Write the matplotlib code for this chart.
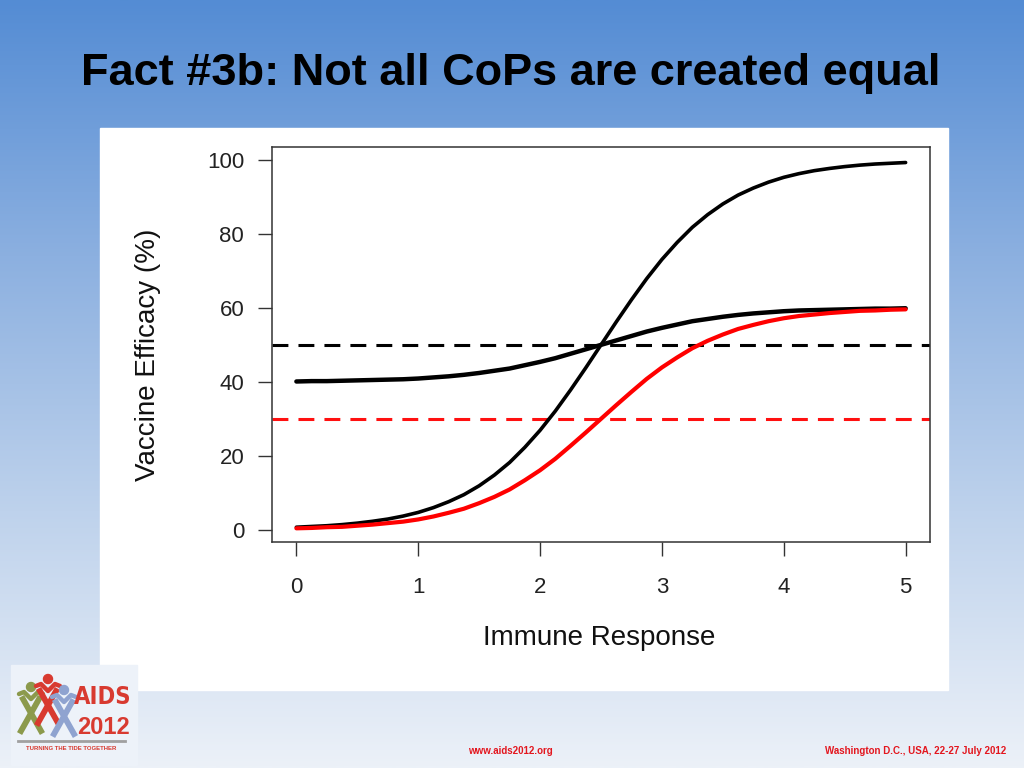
import numpy as np
import matplotlib
matplotlib.use("Agg")
import matplotlib.pyplot as plt
from matplotlib.patches import Rectangle, Circle

plt.rcParams['font.family'] = ['Liberation Sans', 'DejaVu Sans']

# immune response grid and the three efficacy curves
immune = [0.0, 0.125, 0.25, 0.375, 0.5, 0.625, 0.75, 0.875, 1.0, 1.125,
          1.25, 1.375, 1.5, 1.625, 1.75, 1.875, 2.0, 2.125, 2.25, 2.375,
          2.5, 2.625, 2.75, 2.875, 3.0, 3.125, 3.25, 3.375, 3.5, 3.625,
          3.75, 3.875, 4.0, 4.125, 4.25, 4.375, 4.5, 4.625, 4.75, 4.875, 5.0]
steep_black = [0.7, 0.9, 1.1, 1.4, 1.8, 2.3, 2.9, 3.7, 4.7, 6.0,
               7.6, 9.5, 11.9, 14.8, 18.2, 22.3, 26.9, 32.1, 37.8, 43.8,
               50.0, 56.2, 62.2, 67.9, 73.1, 77.7, 81.8, 85.2, 88.1, 90.5,
               92.4, 94.0, 95.3, 96.3, 97.1, 97.7, 98.2, 98.6, 98.9, 99.1, 99.3]
flat_black = [40.1, 40.2, 40.2, 40.3, 40.4, 40.5, 40.6, 40.7, 40.9, 41.2,
              41.5, 41.9, 42.4, 43.0, 43.6, 44.5, 45.4, 46.4, 47.6, 48.8,
              50.0, 51.2, 52.4, 53.6, 54.6, 55.5, 56.4, 57.0, 57.6, 58.1,
              58.5, 58.8, 59.1, 59.3, 59.4, 59.5, 59.6, 59.7, 59.8, 59.8, 59.9]
red_curve = [0.4, 0.5, 0.7, 0.8, 1.1, 1.4, 1.8, 2.2, 2.8, 3.6,
             4.6, 5.7, 7.2, 8.9, 10.9, 13.4, 16.1, 19.2, 22.7, 26.3,
             30.0, 33.7, 37.3, 40.8, 43.9, 46.6, 49.1, 51.1, 52.8, 54.3,
             55.4, 56.4, 57.2, 57.8, 58.2, 58.6, 58.9, 59.2, 59.3, 59.5, 59.6]
black_threshold = 50
red_threshold = 30

x_ticks = [0, 1, 2, 3, 4, 5]
y_ticks = [0, 20, 40, 60, 80, 100]

W, H = 1024, 768
fig = plt.figure(figsize=(W / 100, H / 100), dpi=100)

# slide background (pixel coordinates)
bg = fig.add_axes([0, 0, 1, 1])
bg.set_xlim(0, W)
bg.set_ylim(H, 0)
bg.axis('off')
stops = np.array([[84, 140, 212], [140, 176, 224], [190, 210, 236], [236, 241, 248]]) / 255
pos = np.linspace(0, 1, len(stops))
t = np.linspace(0, 1, 256)
grad = np.stack([np.interp(t, pos, stops[:, c]) for c in range(3)], axis=-1)
bg.imshow(grad[:, None, :], extent=[0, W, H, 0], aspect='auto', zorder=0)

# white panel behind the plot
bg.add_patch(Rectangle((100, 128), 848, 562, color='white', zorder=1))

bg.text(511, 74, "Fact #3b: Not all CoPs are created equal", fontsize=32.5,
        fontweight='bold', ha='center', va='center', color='black', zorder=2)

# footer
footer_red = '#e3161e'
bg.text(510, 751, "www.aids2012.org", fontsize=7, fontweight='bold',
        color=footer_red, ha='center', va='center', zorder=2)
bg.text(1006, 751, "Washington D.C., USA, 22-27 July 2012", fontsize=7,
        fontweight='bold', color=footer_red, ha='right', va='center', zorder=2)

# AIDS 2012 logo, drawn roughly
bg.add_patch(Rectangle((11, 665), 126, 100, color='#edf2f9', zorder=1))
logo_red = '#d83a30'
people = [(31, 687, '#8c9a4c'), (48, 679, logo_red), (64, 690, '#8fa3d0')]
for cx, cy, col in people:
    bg.add_patch(Circle((cx, cy), 4.5, color=col, zorder=3))
    bg.plot([cx - 12, cx - 7, cx, cx + 7, cx + 12], [cy + 7, cy + 5, cy + 12, cy + 5, cy + 7],
            color=col, lw=3.2, solid_capstyle='round', zorder=3)
    bg.plot([cx - 8, cx + 10], [cy + 12, cy + 44], color=col, lw=4.2, zorder=3)
    bg.plot([cx + 8, cx - 10], [cy + 12, cy + 44], color=col, lw=4.2, zorder=3)
bg.text(103, 697, "AIDS", fontsize=17, fontweight='bold', color=logo_red,
        ha='center', va='center', zorder=3, family='DejaVu Sans',
        fontstretch='condensed')
bg.text(103, 727, "2012", fontsize=17, fontweight='bold', color=logo_red,
        ha='center', va='center', zorder=3)
bg.plot([18, 125], [741, 741], color='#a0a0a0', lw=2, zorder=3)
bg.text(71, 748, "TURNING THE TIDE TOGETHER", fontsize=4.3, fontweight='bold',
        color=logo_red, ha='center', va='center', zorder=3)

# the R style plot
ax = fig.add_axes([272 / W, 1 - 542 / H, 658 / W, 395 / H])
ax.set_zorder(2)
ax.set_facecolor('white')

ax.axhline(black_threshold, color='black', lw=2.2, dashes=(5.2, 3.3))
ax.axhline(red_threshold, color='#ff1010', lw=2.2, dashes=(5.2, 3.3))
ax.plot(immune, flat_black, color='black', lw=3.2, solid_capstyle='round', solid_joinstyle='round')
ax.plot(immune, steep_black, color='black', lw=2.6, solid_capstyle='round', solid_joinstyle='round')
ax.plot(immune, red_curve, color='#ff0000', lw=3.0, solid_capstyle='round', solid_joinstyle='round')

ax.set_xlim(-0.2, 5.2)
ax.set_ylim(-3.3, 103.5)
ax.set_xticks(x_ticks)
ax.set_yticks(y_ticks)
ax.set_xticklabels([str(v) for v in x_ticks])
ax.set_yticklabels([str(v) for v in y_ticks])
ax.tick_params(direction='out', length=10, width=1, colors='#333333',
               labelcolor='#222222', labelsize=16)
ax.tick_params(axis='x', pad=15)
ax.tick_params(axis='y', pad=10)
for sp in ax.spines.values():
    sp.set_color('#333333')
    sp.set_linewidth(1.1)

fig.text(599 / W, 1 - 638 / H, "Immune Response", fontsize=20, color='#111111',
         ha='center', va='center')
fig.text(148 / W, 1 - 355 / H, "Vaccine Efficacy (%)", fontsize=20, color='#111111',
         ha='center', va='center', rotation=90)

fig.savefig('out.png', dpi=100)
